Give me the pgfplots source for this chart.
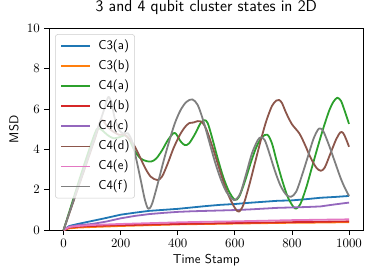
\documentclass[border=0pt]{standalone}
\usepackage{pgfplots}
\pgfplotsset{compat=1.18}
\definecolor{c0}{HTML}{1F77B4}
\definecolor{c1}{HTML}{FF7F0E}
\definecolor{c2}{HTML}{2CA02C}
\definecolor{c3}{HTML}{D62728}
\definecolor{c4}{HTML}{9467BD}
\definecolor{c5}{HTML}{8C564B}
\definecolor{c6}{HTML}{E377C2}
\definecolor{c7}{HTML}{7F7F7F}
\begin{document}
\begin{tikzpicture}
\begin{axis}[
  scale only axis,
  width=243.4bp, height=156.3bp,
  xmin=-50, xmax=1050, ymin=0, ymax=10,
  xtick={0,200,...,1000}, ytick={0,2,...,10},
  /pgf/number format/set thousands separator={},
  tick label style={font=\fontsize{10}{12}\selectfont},
  tick align=outside, xtick pos=bottom, ytick pos=left,
  major tick length=3.9bp,
  tick style={black, line width=0.6pt},
  axis line style={line width=0.6pt},
  title={3 and 4 qubit cluster states in 2D},
  title style={at={(axis description cs:0.5,1)}, anchor=base, yshift=7.2bp, inner sep=0pt, font=\fontsize{12.5}{14}\selectfont\sffamily},
  xlabel={Time Stamp},
  xlabel style={at={(axis description cs:0.5,0)}, anchor=base, yshift=-25.6bp, inner sep=0pt, font=\fontsize{10}{12}\selectfont\sffamily},
  legend style={at={(axis description cs:0,1)}, anchor=north west, xshift=4.5bp, yshift=-4.5bp,
    draw=black!20, rounded corners=2bp, fill=white, fill opacity=0.8, text opacity=1,
    font=\fontsize{10}{12}\selectfont\sffamily, inner xsep=3.9bp, inner ysep=4bp, row sep=5.6bp, column sep=6bp,
    nodes={inner sep=0pt, text height=7.5pt, text depth=2.5pt}},
  legend cell align=left,
  legend image code/.code={\draw[#1, line width=1.4pt] (0bp,0bp) -- (22bp,0bp);},
  every axis plot/.append style={line width=1.4pt, line join=round},
  clip mode=individual,
]
\addplot[c0] coordinates {(0,0) (20,0.2) (50,0.3) (100,0.45) (150,0.6) (200,0.76) (250,0.86) (300,0.95) (350,1.0) (400,1.05) (450,1.12) (500,1.19) (550,1.25) (600,1.29) (650,1.35) (700,1.4) (750,1.45) (800,1.47) (850,1.53) (900,1.6) (950,1.64) (1000,1.69)};
\addlegendentry{C3(a)}
\addplot[c1] coordinates {(0,0) (20,0.08) (50,0.12) (100,0.15) (200,0.2) (300,0.24) (400,0.28) (500,0.3) (600,0.32) (700,0.34) (800,0.36) (900,0.37) (1000,0.39)};
\addlegendentry{C3(b)}
\addplot[c2, smooth, tension=0.5] coordinates {(0,0) (30,1.35) (60,2.7) (90,4.0) (110,4.8) (120,5.05) (135,4.95) (155,4.7) (175,4.55) (195,4.6) (215,4.7) (230,4.5) (250,3.9) (270,3.55) (290,3.42) (308,3.4) (325,3.55) (345,3.95) (365,4.45) (385,4.8) (395,4.75) (410,4.4) (425,4.21) (440,4.3) (460,4.75) (480,5.3) (494,5.45) (505,5.3) (520,4.6) (540,3.55) (560,2.6) (580,1.9) (600,1.5) (615,1.65) (635,2.4) (655,3.3) (675,4.1) (695,4.6) (714,4.73) (730,4.3) (745,3.5) (765,2.5) (785,1.65) (805,1.15) (816,1.07) (830,1.3) (850,2.1) (870,3.1) (890,4.1) (910,5.05) (930,5.9) (945,6.35) (959,6.56) (972,6.4) (985,5.9) (1000,5.26)};
\addlegendentry{C4(a)}
\addplot[c3] coordinates {(0,0) (20,0.12) (50,0.16) (100,0.2) (200,0.24) (300,0.27) (400,0.3) (500,0.32) (600,0.35) (700,0.37) (800,0.39) (900,0.41) (1000,0.43)};
\addlegendentry{C4(b)}
\addplot[c4] coordinates {(0,0) (20,0.17) (50,0.24) (100,0.3) (150,0.42) (200,0.58) (250,0.7) (300,0.79) (350,0.85) (400,0.9) (450,0.93) (500,0.95) (550,0.97) (600,0.99) (650,1.02) (700,1.06) (750,1.1) (800,1.12) (850,1.14) (900,1.17) (950,1.27) (1000,1.36)};
\addlegendentry{C4(c)}
\addplot[c5, smooth, tension=0.5] coordinates {(0,0) (30,1.23) (60,2.46) (90,3.7) (115,4.75) (130,5.45) (140,5.4) (155,5.1) (175,4.87) (195,4.72) (210,4.75) (225,4.6) (245,4.25) (265,3.7) (285,3.1) (305,2.65) (328,2.48) (345,2.65) (365,3.3) (385,4.05) (407,4.71) (425,5.1) (440,5.3) (455,5.33) (470,5.4) (485,5.35) (500,5.0) (520,4.2) (540,3.3) (560,2.4) (580,1.65) (600,1.1) (614,0.91) (630,1.25) (650,2.2) (670,3.3) (690,4.4) (710,5.4) (730,6.15) (745,6.42) (755,6.45) (765,6.3) (780,5.8) (800,5.25) (826,4.79) (845,4.25) (865,3.6) (885,3.1) (901,2.94) (915,3.1) (935,3.8) (955,4.5) (970,4.85) (980,4.8) (990,4.5) (1000,4.13)};
\addlegendentry{C4(d)}
\addplot[c6] coordinates {(0,0) (20,0.15) (50,0.2) (100,0.25) (200,0.3) (300,0.34) (400,0.38) (500,0.41) (600,0.43) (700,0.46) (800,0.49) (900,0.51) (1000,0.53)};
\addlegendentry{C4(e)}
\addplot[c7, smooth, tension=0.5] coordinates {(0,0) (40,1.68) (80,3.36) (120,5.04) (145,6.1) (157,6.6) (168,6.3) (180,5.5) (195,4.95) (210,4.78) (225,4.8) (240,4.4) (255,3.5) (270,2.5) (285,1.5) (297,1.05) (310,1.3) (330,2.3) (350,3.4) (370,4.4) (390,5.3) (410,5.95) (430,6.35) (451,6.48) (470,6.2) (490,5.4) (510,4.4) (530,3.4) (550,2.55) (570,1.9) (590,1.55) (603,1.5) (620,1.85) (640,2.8) (660,3.8) (680,4.45) (692,4.6) (705,4.45) (720,3.85) (740,2.95) (760,2.2) (780,1.75) (797,1.65) (815,1.9) (835,2.7) (855,3.6) (875,4.5) (890,4.95) (898,5.04) (910,4.9) (930,4.2) (950,3.4) (970,2.6) (985,2.1) (1000,1.69)};
\addlegendentry{C4(f)}
\node[rotate=90, anchor=base, inner sep=0pt, font=\fontsize{10}{12}\selectfont\sffamily] at ([xshift=-24bp]axis description cs:0,0.5) {MSD};
\end{axis}
\pgfresetboundingbox
\path (current axis.south west) ++(-38.2bp,-37.2bp) rectangle ++(289.9bp,215.5bp);
\end{tikzpicture}
\end{document}
